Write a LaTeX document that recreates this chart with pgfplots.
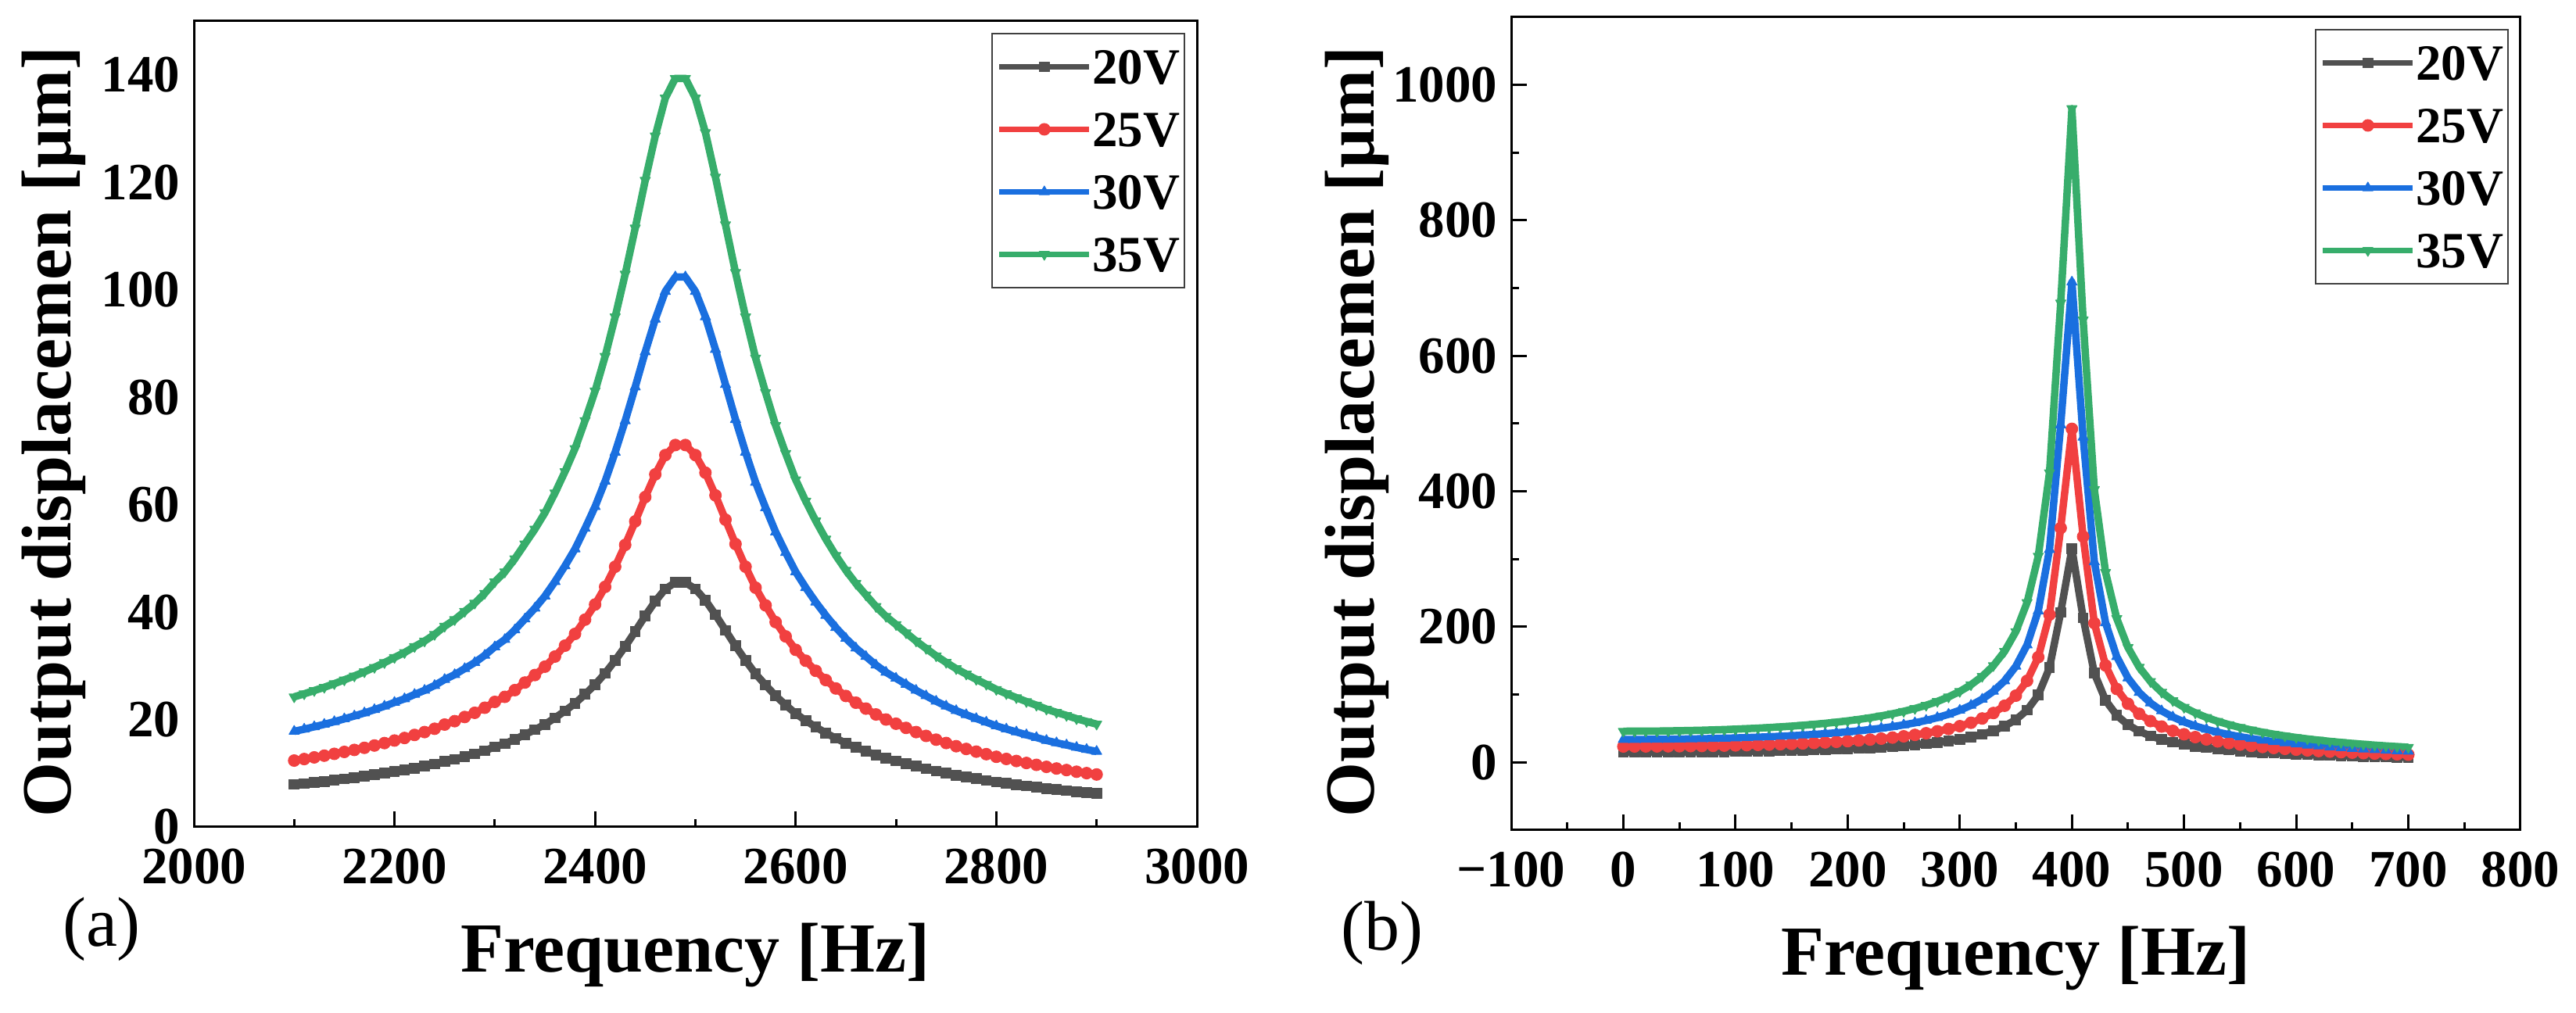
\documentclass[border=0pt]{standalone}
\usepackage{fontspec}
\setmainfont{Liberation Serif}
\usepackage{pgfplots}
\usepackage{pgfplotstable}
\pgfplotsset{compat=1.18}

\definecolor{cgray}{HTML}{515151}
\definecolor{cred}{HTML}{F14040}
\definecolor{cblue}{HTML}{1A6FDF}
\definecolor{cgreen}{HTML}{37AD6B}

\pgfplotstableread{
f v20 v25 v30 v35
2100 7.91 12.36 17.80 24.22
2110 8.09 12.64 18.20 24.78
2120 8.29 12.95 18.65 25.39
2130 8.49 13.27 19.10 26.00
2140 8.71 13.61 19.60 26.67
2150 8.94 13.97 20.12 27.38
2160 9.18 14.34 20.66 28.11
2170 9.43 14.73 21.22 28.88
2180 9.70 15.16 21.83 29.71
2190 9.99 15.61 22.48 30.59
2200 10.30 16.09 23.18 31.54
2210 10.60 16.56 23.85 32.46
2220 10.96 17.13 24.66 33.57
2230 11.30 17.66 25.43 34.61
2240 11.70 18.28 26.33 35.83
2250 12.20 19.06 27.45 37.36
2260 12.60 19.69 28.35 38.59
2270 13.10 20.47 29.48 40.12
2280 13.60 21.25 30.60 41.65
2290 14.20 22.19 31.95 43.49
2300 14.90 23.28 33.53 45.63
2310 15.50 24.22 34.88 47.47
2320 16.30 25.47 36.68 49.92
2330 17.20 26.88 38.70 52.68
2340 18.10 28.28 40.73 55.43
2350 19.10 29.84 42.98 58.49
2360 20.30 31.72 45.68 62.17
2370 21.60 33.75 48.60 66.15
2380 23.00 35.94 51.75 70.44
2390 24.70 38.59 55.58 75.64
2400 26.50 41.41 59.63 81.16
2410 28.60 44.69 64.35 87.59
2420 31.00 48.44 69.75 94.94
2430 33.60 52.50 75.60 102.90
2440 36.40 56.88 81.90 111.48
2450 39.30 61.41 88.43 120.36
2460 42.00 65.63 94.50 128.63
2470 44.30 69.22 99.68 135.67
2480 45.50 71.09 102.38 139.34
2490 45.50 71.09 102.38 139.34
2500 44.30 69.22 99.68 135.67
2510 42.20 65.94 94.95 129.24
2520 39.50 61.72 88.88 120.97
2530 36.60 57.19 82.35 112.09
2540 33.70 52.66 75.83 103.21
2550 31.00 48.44 69.75 94.94
2560 28.50 44.53 64.13 87.28
2570 26.40 41.25 59.40 80.85
2580 24.40 38.13 54.90 74.73
2590 22.70 35.47 51.08 69.52
2600 21.10 32.97 47.48 64.62
2610 19.80 30.94 44.55 60.64
2620 18.60 29.06 41.85 56.96
2630 17.50 27.34 39.38 53.59
2640 16.50 25.78 37.13 50.53
2650 15.60 24.38 35.10 47.78
2660 14.80 23.13 33.30 45.33
2670 14.10 22.03 31.73 43.18
2680 13.40 20.94 30.15 41.04
2690 12.80 20.00 28.80 39.20
2700 12.30 19.22 27.68 37.67
2710 11.80 18.44 26.55 36.14
2720 11.30 17.66 25.43 34.61
2730 10.85 16.95 24.41 33.23
2740 10.40 16.25 23.40 31.85
2750 10.00 15.63 22.50 30.63
2760 9.62 15.03 21.65 29.46
2770 9.29 14.52 20.90 28.45
2780 8.97 14.02 20.18 27.47
2790 8.67 13.55 19.51 26.55
2800 8.36 13.06 18.81 25.60
2810 8.10 12.66 18.23 24.81
2820 7.86 12.28 17.69 24.07
2830 7.62 11.91 17.15 23.34
2840 7.40 11.56 16.65 22.66
2850 7.16 11.19 16.11 21.93
2860 6.96 10.88 15.66 21.32
2870 6.78 10.59 15.26 20.76
2880 6.58 10.28 14.81 20.15
2890 6.41 10.02 14.42 19.63
2900 6.25 9.77 14.06 19.14
}\tabA

\pgfplotstableread{
f v20 v25 v30 v35
0 15.00 23.44 33.75 45.94
10 15.01 23.45 33.77 45.97
20 15.04 23.50 33.84 46.06
30 15.08 23.56 33.93 46.18
40 15.15 23.67 34.09 46.40
50 15.24 23.81 34.29 46.67
60 15.35 23.98 34.54 47.01
70 15.47 24.17 34.81 47.38
80 15.63 24.42 35.17 47.87
90 15.80 24.69 35.55 48.39
100 16.00 25.00 36.00 49.00
110 16.23 25.36 36.52 49.70
120 16.48 25.75 37.08 50.47
130 16.77 26.20 37.73 51.36
140 17.09 26.70 38.45 52.34
150 17.45 27.27 39.26 53.44
160 17.86 27.91 40.19 54.70
170 18.31 28.61 41.20 56.07
180 18.81 29.39 42.32 57.61
190 19.37 30.27 43.58 59.32
200 19.99 31.23 44.98 61.22
210 20.70 32.34 46.58 63.39
220 21.49 33.58 48.35 65.81
230 22.39 34.98 50.38 68.57
240 23.41 36.58 52.67 71.69
250 24.59 38.42 55.33 75.31
260 25.94 40.53 58.37 79.44
270 27.51 42.98 61.90 84.25
280 29.35 45.86 66.04 89.88
290 31.54 49.28 70.97 96.59
300 34.17 53.39 76.88 104.65
310 37.40 58.44 84.15 114.54
320 41.44 64.75 93.24 126.91
330 46.62 72.84 104.90 142.77
340 53.49 83.58 120.35 163.81
350 63.01 98.45 141.77 192.97
360 77.01 120.33 173.27 235.84
370 99.38 155.28 223.61 304.35
380 139.6 218.1 314.1 427.5
390 221.4 345.9 498.2 678.0
400 315.1 492.3 709.0 965.0
410 213.3 333.3 479.9 653.2
420 131.5 205.5 295.9 402.7
430 91.56 143.06 206.01 280.40
440 69.31 108.30 155.95 212.26
450 55.36 86.50 124.56 169.54
460 45.86 71.66 103.19 140.45
470 38.99 60.92 87.73 119.41
480 33.81 52.83 76.07 103.54
490 29.76 46.50 66.96 91.14
500 26.52 41.44 59.67 81.22
510 23.86 37.28 53.69 73.07
520 21.65 33.83 48.71 66.30
530 19.78 30.91 44.51 60.58
540 18.18 28.41 40.91 55.68
550 16.80 26.25 37.80 51.45
560 15.59 24.36 35.08 47.74
570 14.52 22.69 32.67 44.47
580 13.58 21.22 30.56 41.59
590 12.74 19.91 28.67 39.02
600 11.98 18.72 26.96 36.69
610 11.30 17.66 25.43 34.61
620 10.68 16.69 24.03 32.71
630 10.12 15.81 22.77 30.99
640 9.60 15.00 21.60 29.40
650 9.13 14.27 20.54 27.96
660 8.70 13.59 19.58 26.64
670 8.30 12.97 18.68 25.42
680 7.93 12.39 17.84 24.29
690 7.59 11.86 17.08 23.24
700 7.27 11.36 16.36 22.26
}\tabB

\pgfplotsset{
  panel/.style={
    scale only axis,
    axis line style={line width=0.6pt},
    every tick/.style={black, line width=0.6pt},
    major tick length=4pt,
    minor tick length=2pt,
    tick align=inside,
    xtick pos=bottom,
    ytick pos=left,
    tick label style={font=\fontsize{13.4}{15}\selectfont\bfseries},
    xticklabel style={yshift=-2pt},
    /pgf/number format/assume math mode=true,
    /pgf/number format/1000 sep={},
    label style={font=\fontsize{18}{20}\selectfont\bfseries},
    xlabel style={at={(axis description cs:0.5,0)}, anchor=base, yshift=-37.2pt},
    legend cell align=left,
    legend style={at={(1,1)}, anchor=north east, xshift=-3pt, yshift=-3pt,
      draw=black!75, line width=0.4pt,
      font=\fontsize{13}{14}\selectfont\bfseries,
      nodes={inner sep=0pt, text height=9pt, text depth=0pt},
      row sep=7pt, inner xsep=1.2pt, inner ysep=4pt,
      /tikz/every even column/.append style={column sep=4.6pt}},
    legend image code/.code={\draw[#1, line width=1.5pt, mark repeat=2, mark phase=2]
      plot coordinates {(0pt,0pt) (11.5pt,0pt) (23pt,0pt)};},
    every axis plot/.append style={line width=1.9pt, line join=round,
      mark size=1.5pt},
  },
  s20/.style={color=cgray, mark=square*, mark options={solid, fill=cgray, line width=0.2pt, scale=0.85}},
  s25/.style={color=cred, mark=*, mark options={solid, fill=cred, line width=0.2pt}},
  s30/.style={color=cblue, mark=triangle*, mark options={solid, fill=cblue, line width=0.2pt}},
  s35/.style={color=cgreen, mark=triangle*, mark options={solid, fill=cgreen, rotate=180, line width=0.2pt}},
}

\begin{document}
\begin{tikzpicture}
\useasboundingbox (0pt,0pt) rectangle (659pt,259.2pt);

\begin{axis}[panel,
  at={(49.6pt,47.6pt)}, anchor=south west,
  width=256.6pt, height=206.2pt,
  xmin=2000, xmax=3000, ymin=0, ymax=150,
  xtick={2000,2200,...,3000},
  ytick={0,20,...,140},
  minor x tick num=1,
  ytick style={draw=none},
  xlabel={Frequency [Hz]},
  ylabel={Output displacemen [μm]},
  ylabel style={at={(axis description cs:0,0.49)}, anchor=base, yshift=31.6pt},
]
\addplot[s20] table[x=f, y=v20] {\tabA};
\addlegendentry{20V}
\addplot[s25] table[x=f, y=v25] {\tabA};
\addlegendentry{25V}
\addplot[s30] table[x=f, y=v30] {\tabA};
\addlegendentry{30V}
\addplot[s35] table[x=f, y=v35] {\tabA};
\addlegendentry{35V}
\end{axis}

\begin{axis}[panel,
  at={(386.6pt,46.8pt)}, anchor=south west,
  width=258.2pt, height=208pt,
  xmin=-100, xmax=800, ymin=-100, ymax=1100,
  xtick={-100,0,...,800},
  xticklabels={−100,0,100,200,300,400,500,600,700,800},
  ytick={0,200,...,1000},
  minor x tick num=1,
  minor y tick num=1,
  xlabel={Frequency [Hz]},
  ylabel={Output displacemen [μm]},
  ylabel style={at={(axis description cs:0,0.49)}, anchor=base, yshift=35.2pt},
]
\addplot[s20] table[x=f, y=v20] {\tabB};
\addlegendentry{20V}
\addplot[s25] table[x=f, y=v25] {\tabB};
\addlegendentry{25V}
\addplot[s30] table[x=f, y=v30] {\tabB};
\addlegendentry{30V}
\addplot[s35] table[x=f, y=v35] {\tabB};
\addlegendentry{35V}
\end{axis}

\node[font=\fontsize{18}{20}\selectfont] at (26pt,21.5pt) {(a)};
\node[font=\fontsize{18}{20}\selectfont] at (353.6pt,20.5pt) {(b)};
\end{tikzpicture}
\end{document}
